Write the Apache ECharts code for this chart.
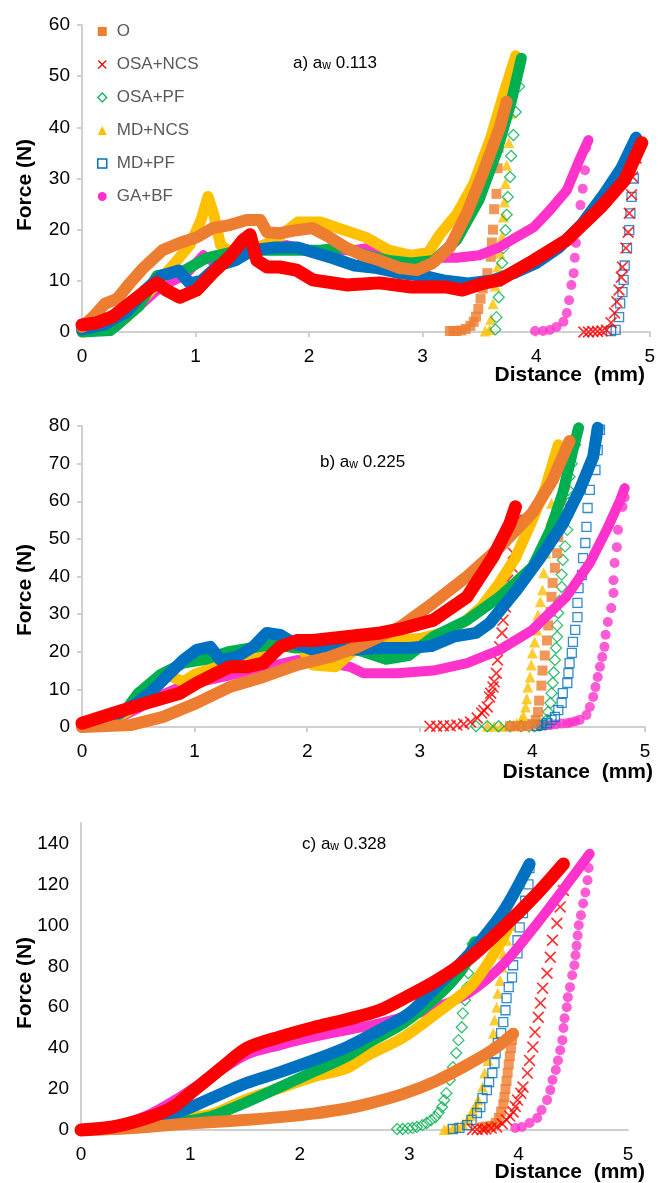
<!DOCTYPE html>
<html>
<head>
<meta charset="utf-8">
<script src="https://cdn.jsdelivr.net/npm/echarts@6.0.0/dist/echarts.min.js"></script>
<style>
html,body{margin:0;padding:0;background:#fff;}
#main{width:658px;height:1183px;}
</style>
</head>
<body>
<div id="main"></div>
<script>
// legend order and the order the samples are painted (first = underneath)
var names = ['O', 'OSA+NCS', 'OSA+PF', 'MD+NCS', 'MD+PF', 'GA+BF'];
var drawOrder = ['GA+BF', 'MD+NCS', 'OSA+PF', 'MD+PF', 'O', 'OSA+NCS'];

// axis ranges (mm / N)
var xRange = [0, 5, 1];
var yRangeA = [0, 60, 10];
var yRangeB = [0, 80, 10];
var yRangeC = [0, 150, 20];

// ---------- a) aw 0.113 : [distance, force] ----------
var aO_load = [[0,1],[0.1,3],[0.2,5.5],[0.31,6.5],[0.42,9.5],[0.54,12.5],[0.71,16],[0.86,17.4],[1.01,18.5],[1.15,20.3],[1.3,20.9],[1.45,21.9],[1.57,21.9],[1.63,19.5],[1.74,19.3],[1.89,19.9],[2.03,20.3],[2.18,18.5],[2.33,16.4],[2.47,15],[2.62,14],[2.8,12.5],[2.95,12.1],[3.09,13.5],[3.24,16.6],[3.39,23.2],[3.53,31],[3.68,40],[3.74,45]];
var aO_unload = [[3.7,42],[3.67,36],[3.66,32],[3.65,27],[3.63,24],[3.62,20],[3.61,17.5],[3.6,14.7],[3.57,11.5],[3.55,10],[3.53,8.5],[3.51,6.5],[3.49,4.5],[3.47,3],[3.45,2],[3.42,1.2],[3.38,0.6],[3.34,0.3],[3.3,0.2],[3.27,0.2],[3.24,0.2]];
var aR_load = [[0,1.4],[0.13,1.8],[0.27,3],[0.42,5.6],[0.57,8.2],[0.66,9.6],[0.74,8.2],[0.86,6.8],[1.01,8.2],[1.15,11.5],[1.3,14.7],[1.42,18],[1.48,19],[1.54,14],[1.63,12.7],[1.74,12.7],[1.89,12.1],[2.03,10.2],[2.33,9.2],[2.62,9.6],[2.9,8.8],[3.2,8.8],[3.35,8.2],[3.53,9.5],[3.68,10.2],[3.98,14],[4.27,18],[4.57,24.4],[4.78,29.7],[4.93,37]];
var aR_unload = [[4.88,34],[4.85,30.3],[4.84,26.8],[4.82,23.2],[4.81,19.5],[4.79,16.4],[4.76,12.7],[4.75,10.7],[4.73,8.2],[4.71,5.9],[4.69,3.7],[4.66,1.8],[4.62,0.4],[4.58,0.2],[4.54,0.1],[4.5,0.1],[4.46,0],[4.42,0]];
var aG_load = [[0,0],[0.25,0.3],[0.5,5],[0.66,11],[0.9,12],[1.1,14.5],[1.3,15.5],[1.5,16],[1.7,16],[1.9,16],[2.1,16],[2.3,16.5],[2.5,15],[2.7,14],[2.9,13.5],[3.1,14],[3.3,18],[3.5,26],[3.65,35],[3.78,45],[3.87,53.5]];
var aG_unload = [[3.85,48],[3.82,43],[3.8,38.5],[3.78,34.4],[3.77,30.3],[3.75,26.4],[3.74,22.9],[3.73,19.9],[3.71,16.4],[3.7,13.5],[3.69,10],[3.67,6.8],[3.65,2.9],[3.64,0.5]];
var aY_load = [[0,0],[0.2,0.5],[0.4,3],[0.6,8],[0.8,13],[0.95,17],[1.05,22],[1.11,26.5],[1.16,23],[1.22,17],[1.35,15],[1.5,16],[1.7,18],[1.9,21.5],[2.1,21.5],[2.3,20],[2.5,18.5],[2.7,16],[2.9,15],[3.05,15.5],[3.15,19],[3.3,23],[3.45,29],[3.6,38],[3.72,47],[3.82,54]];
var aY_unload = [[3.79,48],[3.77,42.7],[3.76,37],[3.74,32.6],[3.73,29],[3.72,25.4],[3.71,22.5],[3.7,18.6],[3.68,15.4],[3.66,12.7],[3.64,9],[3.62,5.5],[3.6,2.5],[3.59,0.5],[3.55,0.2]];
var aB_load = [[0,0.5],[0.2,1.5],[0.4,4],[0.55,8],[0.7,11],[0.85,12],[0.95,9.5],[1.05,10],[1.2,13],[1.35,14],[1.5,16],[1.7,16.5],[1.9,16.5],[2.05,15.5],[2.2,14.5],[2.4,13],[2.6,12.5],[2.8,11.5],[3,11],[3.2,10],[3.4,9.5],[3.6,10],[3.8,11.5],[4,13.5],[4.2,16.5],[4.4,21],[4.6,27],[4.75,32],[4.88,38]];
var aB_unload = [[4.87,34],[4.86,30],[4.84,26.4],[4.83,23.2],[4.82,19.9],[4.8,16.4],[4.78,13],[4.77,10.2],[4.76,7.8],[4.74,5.6],[4.73,2.9],[4.7,0.4],[4.66,0.2]];
var aP_load = [[0,0],[0.3,1],[0.5,5],[0.7,9],[0.9,11],[1.07,15],[1.2,13],[1.4,15],[1.6,16],[1.8,17],[2,16],[2.2,16],[2.4,16],[2.56,16.6],[2.8,14.5],[3,14.5],[3.3,14.5],[3.5,15],[3.68,16.6],[3.83,18.6],[3.98,20.5],[4.12,23.8],[4.27,27.7],[4.38,33.6],[4.46,37.5]];
var aP_unload = [[4.44,36],[4.43,31.6],[4.41,28],[4.39,24.8],[4.37,20.5],[4.35,17.4],[4.34,14.5],[4.33,11.5],[4.31,9.2],[4.29,6.2],[4.27,3.7],[4.24,2],[4.18,1],[4.12,0.4],[4.06,0.2],[3.99,0.2]];

// ---------- b) aw 0.225 ----------
var bO_load = [[0,0],[0.43,0.5],[0.72,2.7],[1.02,6.4],[1.31,10.6],[1.61,13.3],[1.91,16.5],[2.2,18.6],[2.45,21.3],[2.82,26.5],[3.12,33],[3.42,40],[3.71,47.8],[4,56.9],[4.18,65.6],[4.3,74],[4.33,76]];
var bO_unload = [[4.31,68.3],[4.29,64.3],[4.26,60.3],[4.24,55.5],[4.23,50.5],[4.22,46.2],[4.2,42.3],[4.18,38.3],[4.17,34.6],[4.16,30.6],[4.14,27],[4.13,23],[4.11,19],[4.09,15],[4.08,11],[4.06,7],[4.05,4],[4.03,1.9],[4,0.8],[3.95,0.3],[3.9,0.2],[3.85,0.2],[3.8,0.2]];
var bR_load = [[0,1],[0.28,3.7],[0.57,6.4],[0.87,9],[1.02,11.7],[1.16,13.8],[1.31,16],[1.46,16],[1.61,17],[1.76,21.3],[1.91,23],[2.05,23],[2.35,24],[2.65,25],[2.82,26],[3.12,28.4],[3.42,34.6],[3.65,45.2],[3.8,54],[3.85,58.5]];
var bR_unload = [[3.86,55],[3.83,46.2],[3.82,42.5],[3.78,39],[3.77,35.6],[3.76,31.9],[3.74,28.4],[3.73,25],[3.71,21.3],[3.69,17.8],[3.68,14.3],[3.66,12],[3.65,10.6],[3.63,9],[3.62,8],[3.6,5.3],[3.57,4.4],[3.55,3.7],[3.51,2.4],[3.45,1.3],[3.39,0.8],[3.33,0.5],[3.27,0.3],[3.21,0.3],[3.15,0.2],[3.09,0.2]];
var bG_load = [[0,0],[0.2,1.5],[0.4,5],[0.5,9],[0.7,14],[0.9,17],[1.1,18],[1.3,20],[1.5,21],[1.7,22],[1.9,21],[2.1,22],[2.3,21.5],[2.5,20],[2.7,18],[2.9,19],[3.12,24],[3.42,28.4],[3.71,34.6],[4,42.5],[4.16,52.4],[4.27,62.2],[4.36,73.6],[4.41,79.5]];
var bG_unload = [[4.38,75],[4.35,70],[4.33,66.5],[4.32,63],[4.32,59.5],[4.31,56],[4.31,52.4],[4.29,48],[4.27,44.4],[4.26,40.5],[4.26,37.2],[4.24,33.5],[4.23,30.3],[4.22,27],[4.22,24],[4.21,21],[4.2,17.8],[4.19,14.5],[4.18,11.7],[4.17,9],[4.16,6.4],[4.14,4],[4.13,1.9],[4.1,1],[4.06,0.4],[4.02,0.2],[3.97,0.2],[3.9,0.2],[3.8,0.2],[3.7,0.2],[3.6,0.2],[3.5,0.2]];
var bY_load = [[0,0],[0.2,1],[0.4,4],[0.6,9],[0.75,14],[0.9,12],[1,14],[1.2,16],[1.4,16],[1.6,19],[1.8,22],[1.9,23],[2.05,16.5],[2.25,16],[2.4,20],[2.6,22],[2.8,23],[3,23.5],[3.2,25],[3.4,28],[3.55,32],[3.7,38],[3.85,45],[4,55],[4.12,64],[4.23,75]];
var bY_unload = [[4.2,68],[4.17,59.5],[4.16,55],[4.14,50.2],[4.12,46.2],[4.1,41],[4.09,36.4],[4.07,33.3],[4.05,29.8],[4.04,25.8],[4.02,22.6],[4,19.7],[3.99,16.5],[3.98,13.3],[3.96,10.6],[3.95,7.5],[3.94,5.3],[3.92,3],[3.9,1.9],[3.86,1],[3.83,0.5],[3.78,0.3],[3.72,0.2],[3.66,0.2],[3.6,0.2]];
var bB_load = [[0,0.5],[0.28,2.7],[0.49,6.4],[0.63,9.8],[0.78,14.3],[0.9,17.8],[1.02,20.5],[1.14,21.3],[1.23,17.8],[1.37,18.6],[1.52,21.3],[1.64,25],[1.76,24.5],[1.88,22.3],[2.05,20.5],[2.35,20.5],[2.65,21],[2.9,21],[3.1,21.5],[3.3,24],[3.5,25],[3.62,27.6],[3.86,36.4],[4.07,45],[4.27,54],[4.42,63],[4.54,71.8],[4.58,79.5]];
var bB_unload = [[4.6,79],[4.58,73.6],[4.56,68.3],[4.51,63],[4.49,58.2],[4.48,53.2],[4.47,48.9],[4.45,44.9],[4.44,40.4],[4.41,36.9],[4.4,33],[4.4,29.2],[4.38,25.8],[4.36,22.6],[4.35,19.7],[4.33,17],[4.32,14.3],[4.31,11.7],[4.27,9],[4.26,6.4],[4.23,4.5],[4.2,2.7],[4.17,1.9],[4.13,1],[4.08,0.5],[4.04,0.3]];
var bP_load = [[0,0],[0.3,2],[0.5,5],[0.67,8],[0.9,11],[1.2,13],[1.5,15],[1.91,17.8],[2.2,17],[2.38,16],[2.5,14.3],[2.8,14.3],[3.12,15],[3.42,17],[3.71,20.5],[4,25.8],[4.3,34.6],[4.51,43.6],[4.66,52.4],[4.78,60.3],[4.82,63.5]];
var bP_unload = [[4.82,61],[4.8,58.5],[4.76,52.4],[4.75,47.8],[4.73,43.6],[4.72,39],[4.72,35.6],[4.7,31.6],[4.67,27.9],[4.65,24.5],[4.64,21.3],[4.62,18.6],[4.6,16],[4.58,13.3],[4.56,10.6],[4.54,8],[4.51,5.3],[4.48,3.2],[4.42,1.9],[4.38,1.5],[4.34,1.2],[4.31,1],[4.26,0.9],[4.21,0.7],[4.16,0.5],[4.12,0.4],[4.07,0.3]];

// ---------- c) aw 0.328 ----------
var cO_load = [[0,0],[0.3,0.5],[0.6,1.5],[0.9,2.8],[1.21,3.9],[1.52,5],[1.82,6.3],[2.12,8],[2.43,10.5],[2.64,13],[2.94,17.5],[3.25,24],[3.56,32.7],[3.8,40.5],[3.95,47]];
var cO_unload = [[3.94,44],[3.93,40],[3.92,36],[3.91,32],[3.9,28],[3.89,24],[3.88,20],[3.87,16],[3.86,12.5],[3.84,9],[3.82,6],[3.79,3.5],[3.75,2],[3.71,1.6],[3.67,1.5]];
var cR_load = [[0,0],[0.29,1.5],[0.6,5.8],[0.84,11.2],[1,18],[1.15,24.5],[1.3,31],[1.52,40],[1.82,45.5],[2.12,50],[2.43,54],[2.73,58.5],[2.94,64],[3.25,73],[3.56,84.4],[3.86,99],[4.17,115.6],[4.41,130]];
var cR_unload = [[4.41,117],[4.38,109],[4.35,101],[4.31,92.7],[4.29,84.4],[4.26,76.6],[4.22,69.3],[4.2,62],[4.18,55.1],[4.15,47.8],[4.13,40.5],[4.1,34],[4.08,27.8],[4.04,21],[4.02,18],[3.99,14.6],[3.97,11.5],[3.95,8.8],[3.92,6.8],[3.89,4.9],[3.85,3],[3.8,1.5],[3.75,1],[3.7,0.5],[3.67,0.3],[3.62,0.3],[3.58,0.3]];
var cG_load = [[0,0],[0.3,1],[0.6,3],[0.9,4],[1.05,5],[1.21,7],[1.51,13.5],[1.82,21],[2.12,28.3],[2.43,36],[2.64,43],[2.94,52],[3.25,65],[3.49,79],[3.6,92]];
var cG_unload = [[3.58,91],[3.56,83],[3.54,76.6],[3.53,69.8],[3.51,63.4],[3.49,57],[3.48,50.2],[3.45,43.9],[3.43,37.6],[3.4,30.7],[3.37,24.4],[3.34,18],[3.32,14.5],[3.3,11.2],[3.27,8.5],[3.24,6.3],[3.2,4.8],[3.16,3.4],[3.12,2.4],[3.07,1.5],[3.03,1],[2.99,0.8],[2.94,0.5],[2.89,0.5]];
var cY_load = [[0,0],[0.3,0.5],[0.6,2],[0.9,5],[1.21,8],[1.51,15],[1.82,20.5],[2.12,25.9],[2.43,30.2],[2.64,37],[2.94,45],[3.25,57],[3.56,70],[3.75,84],[3.88,96],[3.95,105]];
var cY_unload = [[3.92,100],[3.89,92.7],[3.86,86],[3.85,79.5],[3.83,73],[3.81,66.8],[3.8,60],[3.78,53.7],[3.77,47.3],[3.75,40.5],[3.72,34],[3.69,27.8],[3.67,21],[3.63,14.6],[3.61,12],[3.58,9.8],[3.56,7],[3.53,4.9],[3.49,3],[3.44,1.5],[3.4,1],[3.35,0.5],[3.32,0.3]];
var cB_load = [[0,0],[0.3,1.5],[0.6,5],[0.9,9],[1,11],[1.21,16],[1.51,22.9],[1.82,28.3],[2.12,34],[2.43,40.5],[2.73,48.8],[3,57],[3.25,70],[3.55,86],[3.85,106],[4.1,130]];
var cB_unload = [[4.1,128],[4.09,120],[4.06,112],[4.04,106],[4.01,99],[3.99,92.7],[3.99,86.3],[3.95,80.5],[3.94,74.6],[3.91,69.8],[3.89,64.4],[3.88,58.5],[3.86,52.7],[3.84,47.3],[3.81,42.4],[3.79,37.6],[3.78,32.7],[3.76,27.8],[3.73,23.4],[3.71,19.5],[3.67,15.6],[3.65,11.2],[3.62,8.3],[3.57,4.9],[3.53,2.4],[3.46,1],[3.4,0.5]];
var cP_load = [[0,0],[0.3,2],[0.6,7],[0.9,16],[1.1,23],[1.3,30],[1.52,37],[1.82,41.5],[2,44],[2.3,47.5],[2.64,51],[2.94,55],[3.25,60],[3.53,66.5],[3.86,81],[4.17,101],[4.47,122],[4.65,135]];
var cP_unload = [[4.64,128],[4.63,122],[4.61,116],[4.59,110.7],[4.57,104.9],[4.55,100],[4.54,95],[4.53,90],[4.52,85.4],[4.51,80.5],[4.49,75.6],[4.47,69.8],[4.45,64.9],[4.44,60],[4.42,54.6],[4.41,49.8],[4.4,43.9],[4.38,39],[4.36,34],[4.34,29.3],[4.31,24.4],[4.29,19.5],[4.26,14.6],[4.21,9.8],[4.17,5.9],[4.1,3.4],[4.03,1.5],[3.97,1]];

var xPath = 'path://M0,1L1,0L5,4L9,0L10,1L6,5L10,9L9,10L5,6L1,10L0,9L4,5Z';
var styles = {
    'O':       {color: '#ED7D31', symbol: 'rect',     size: 10, band: 12},
    'OSA+NCS': {color: '#FF0000', symbol: xPath,      size: 12, band: 13},
    'OSA+PF':  {color: '#00B050', symbol: 'diamond',  size: 11, band: 11, hollow: true},
    'MD+NCS':  {color: '#FFC000', symbol: 'triangle', size: 11, band: 11},
    'MD+PF':   {color: '#0070C0', symbol: 'rect',     size: 9,  band: 12, hollow: true},
    'GA+BF':   {color: '#FF33CC', symbol: 'circle',   size: 10, band: 10}
};

var panels = [
    {'O': [aO_load, aO_unload], 'OSA+NCS': [aR_load, aR_unload], 'OSA+PF': [aG_load, aG_unload],
     'MD+NCS': [aY_load, aY_unload], 'MD+PF': [aB_load, aB_unload], 'GA+BF': [aP_load, aP_unload]},
    {'O': [bO_load, bO_unload], 'OSA+NCS': [bR_load, bR_unload], 'OSA+PF': [bG_load, bG_unload],
     'MD+NCS': [bY_load, bY_unload], 'MD+PF': [bB_load, bB_unload], 'GA+BF': [bP_load, bP_unload]},
    {'O': [cO_load, cO_unload], 'OSA+NCS': [cR_load, cR_unload], 'OSA+PF': [cG_load, cG_unload],
     'MD+NCS': [cY_load, cY_unload], 'MD+PF': [cB_load, cB_unload], 'GA+BF': [cP_load, cP_unload]}
];
// panel c curves are smooth, a and b are ragged
var smoothPanel = [false, false, 0.3];

var FONT = '"Liberation Sans", Arial, sans-serif';
var axisGray = '#d0d0d0';

var series = [];
panels.forEach(function (sets, gi) {
    drawOrder.forEach(function (name) {
        var st = styles[name];
        // loading part: dense markers, drawn as a thick band
        series.push({
            type: 'line', name: name, xAxisIndex: gi, yAxisIndex: gi,
            data: sets[name][0], symbol: 'none', showSymbol: false, clip: false, silent: true,
            smooth: smoothPanel[gi],
            lineStyle: {color: st.color, width: st.band, cap: 'round', join: 'round'},
            itemStyle: {color: st.color}
        });
        // unloading part: separate markers
        series.push({
            type: 'scatter', name: name, xAxisIndex: gi, yAxisIndex: gi,
            data: sets[name][1], symbol: st.symbol, symbolSize: st.size, clip: false, silent: true,
            itemStyle: st.hollow ? {color: 'rgba(255,255,255,0)', borderColor: st.color, borderWidth: 1.3}
                                 : {color: st.color}
        });
    });
});

function xAxisFor(gi, ticks) {
    return {
        type: 'value', gridIndex: gi, min: xRange[0], max: xRange[1], interval: xRange[2],
        axisLine: {onZero: false, lineStyle: {color: axisGray, width: 2}},
        axisTick: {show: ticks, length: 5, lineStyle: {color: axisGray, width: 2}},
        splitLine: {show: false},
        axisLabel: {color: '#000', fontSize: 19, fontFamily: FONT, margin: 15}
    };
}
function yAxisFor(gi, r, ticks) {
    return {
        type: 'value', gridIndex: gi, min: r[0], max: r[1], interval: r[2],
        axisLine: {show: true, lineStyle: {color: axisGray, width: 2}},
        axisTick: {show: ticks, length: 5, lineStyle: {color: axisGray, width: 2}},
        splitLine: {show: false},
        axisLabel: {color: '#000', fontSize: 19, fontFamily: FONT, margin: 12, showMaxLabel: r[1] % r[2] === 0}
    };
}

function panelTitle(x, y, val) {
    return {
        type: 'text', x: x, y: y, silent: true,
        style: {
            text: '{n|' + val[0] + ') a}{s|w}{n| ' + val[1] + '}',
            verticalAlign: 'middle',
            rich: {
                n: {fontSize: 17, fontFamily: FONT, fill: '#000', verticalAlign: 'bottom'},
                s: {fontSize: 12, fontFamily: FONT, fill: '#000', verticalAlign: 'bottom'}
            }
        }
    };
}
function boldText(x, y, txt, rot, align) {
    return {
        type: 'text', x: x, y: y, rotation: rot, silent: true,
        style: {text: txt, font: 'bold 21px ' + FONT, fill: '#000', align: align, verticalAlign: 'middle'}
    };
}

var legendData = [
    {name: 'O', icon: 'rect', itemStyle: {color: '#ED7D31', borderWidth: 0}},
    {name: 'OSA+NCS', icon: xPath, itemStyle: {color: '#FF0000', borderWidth: 0}},
    {name: 'OSA+PF', icon: 'diamond', itemStyle: {color: '#fff', borderColor: '#00B050', borderWidth: 1.2}},
    {name: 'MD+NCS', icon: 'triangle', itemStyle: {color: '#FFC000', borderWidth: 0}},
    {name: 'MD+PF', icon: 'rect', itemStyle: {color: '#fff', borderColor: '#0070C0', borderWidth: 1.5}},
    {name: 'GA+BF', icon: 'circle', itemStyle: {color: '#FF33CC', borderWidth: 0}}
];

var myChart = echarts.init(document.getElementById('main'), null, {renderer: 'canvas'});
var option = {
    animation: false,
    backgroundColor: '#fff',
    grid: [
        {left: 82, top: 25, width: 568, height: 307},
        {left: 82, top: 426, width: 563, height: 301},
        {left: 81, top: 823, width: 547, height: 307}
    ],
    xAxis: [xAxisFor(0, true), xAxisFor(1, true), xAxisFor(2, false)],
    yAxis: [yAxisFor(0, yRangeA, true), yAxisFor(1, yRangeB, true), yAxisFor(2, yRangeC, false)],
    legend: {
        orient: 'vertical', left: 92, top: 18, itemWidth: 9, itemHeight: 9, itemGap: 16,
        selectedMode: false,
        textStyle: {fontSize: 17, color: '#595959', fontFamily: FONT, padding: [0, 0, 0, 5]},
        data: legendData
    },
    graphic: [
        panelTitle(293, 63, ['a', '0.113']),
        panelTitle(320, 462, ['b', '0.225']),
        panelTitle(302, 844, ['c', '0.328']),
        boldText(25, 185, 'Force (N)', Math.PI / 2, 'center'),
        boldText(25, 590, 'Force (N)', Math.PI / 2, 'center'),
        boldText(25, 983, 'Force (N)', Math.PI / 2, 'center'),
        boldText(645, 375, 'Distance  (mm)', 0, 'right'),
        boldText(653, 772, 'Distance  (mm)', 0, 'right'),
        boldText(645, 1172, 'Distance  (mm)', 0, 'right')
    ],
    series: series
};
myChart.setOption(option);
</script>
</body>
</html>
